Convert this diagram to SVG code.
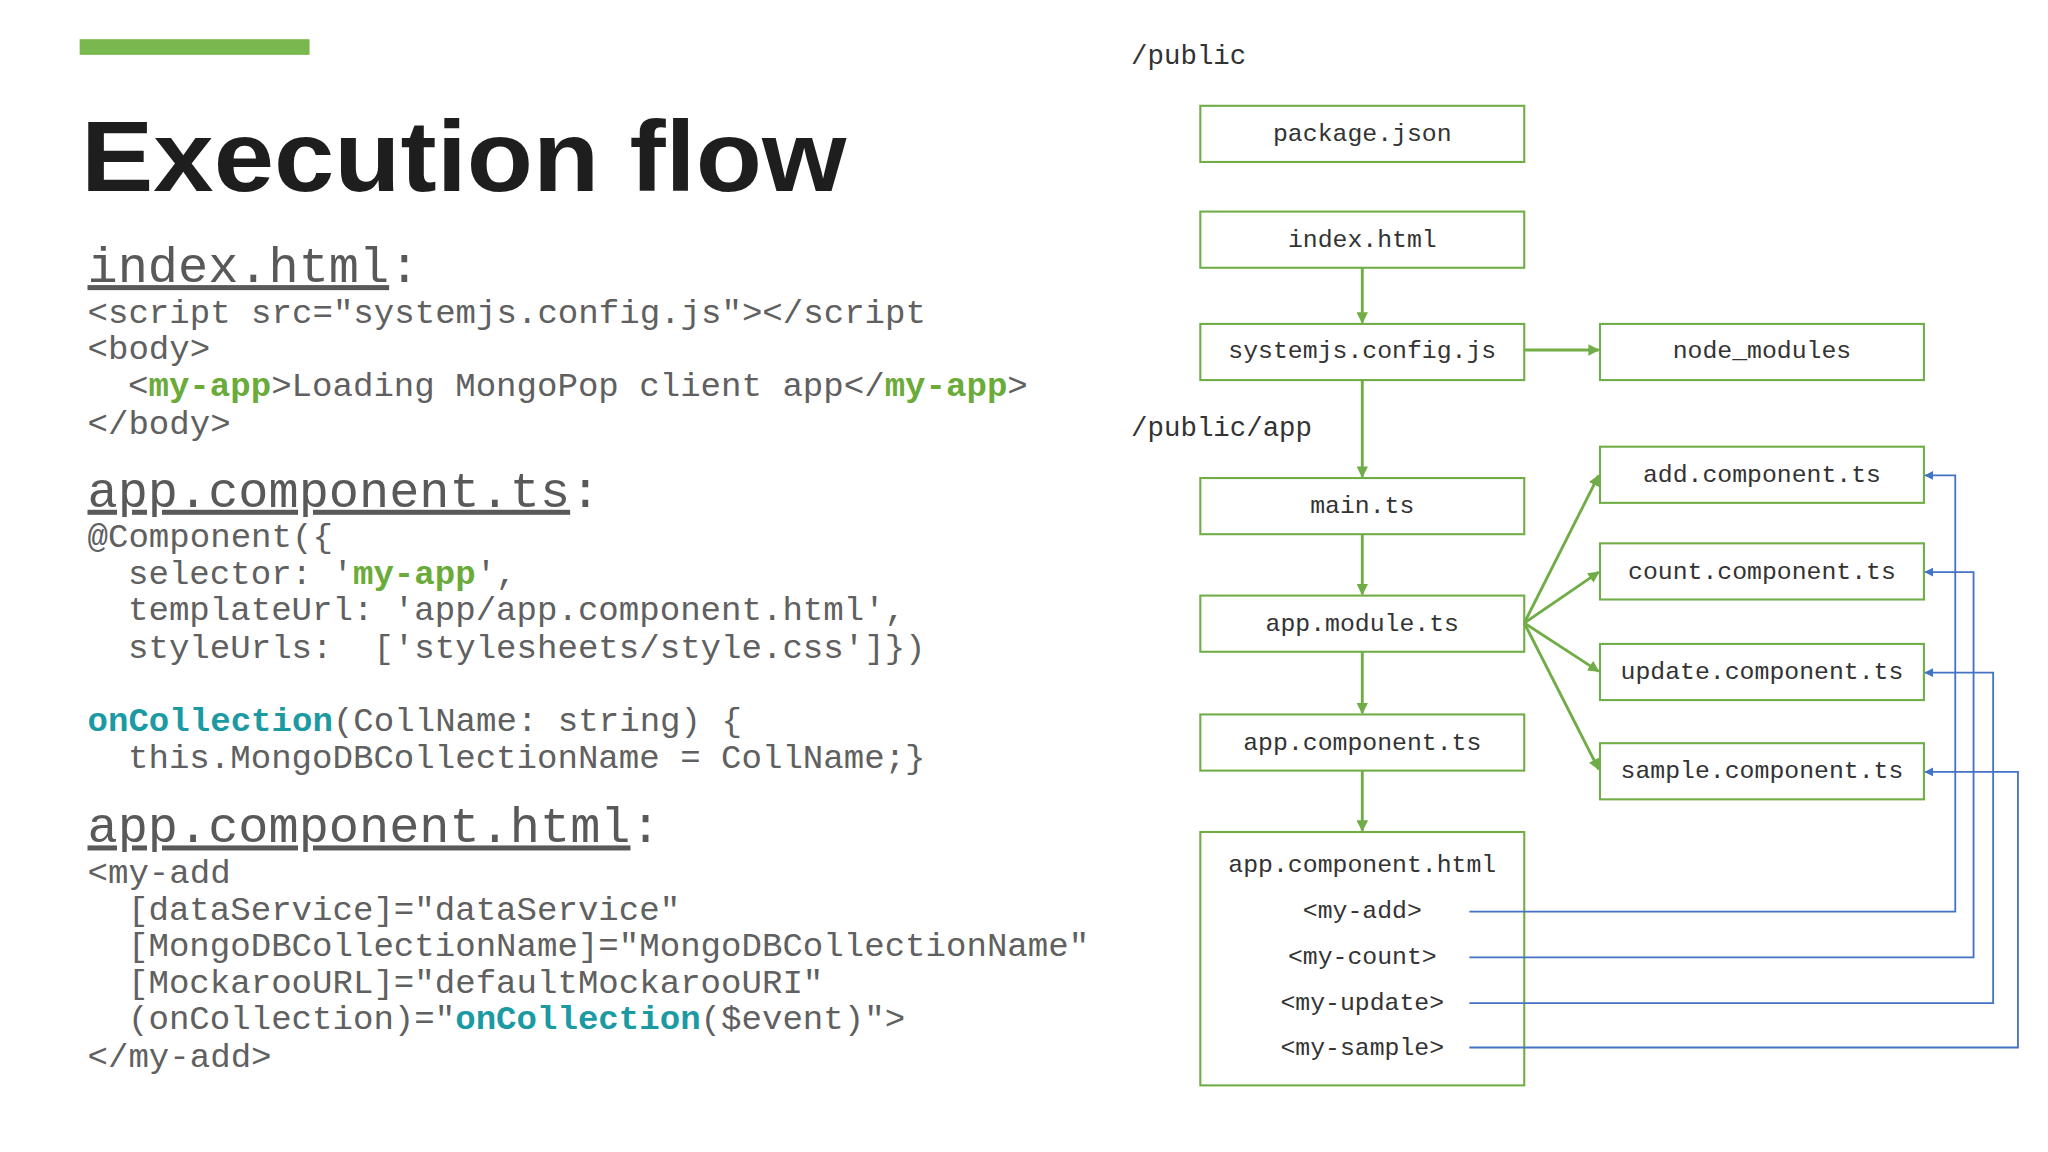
<svg xmlns="http://www.w3.org/2000/svg" width="2048" height="1152" viewBox="0 0 2048 1152">
<style>
.code{font-family:"Liberation Mono","Courier New",monospace;font-size:26.1px;fill:#606060}
.hd{font-family:"Liberation Mono","Courier New",monospace;font-size:38.5px;fill:#595959}
.u{text-decoration:underline}
.g{fill:#6aab3a;font-weight:bold}
.t{fill:#1b9aa3;font-weight:bold}
.box{fill:#fff;stroke:#70ad47;stroke-width:1.6}
.bt{font-family:"Liberation Mono","Courier New",monospace;font-size:19px;fill:#333;text-anchor:middle}
.lbl{font-family:"Liberation Mono","Courier New",monospace;font-size:21px;fill:#333}
.ga{stroke:#70ad47;stroke-width:2.2;fill:none;marker-end:url(#ag)}
.ba{stroke:#4472c4;stroke-width:1.4;fill:none;marker-end:url(#ab)}
</style>
<defs>
<marker id="ag" viewBox="0 0 10 10" refX="9" refY="5" markerWidth="4" markerHeight="4" orient="auto"><path d="M0,0L10,5L0,10z" fill="#70ad47"/></marker>
<marker id="ab" viewBox="0 0 10 10" refX="9" refY="5" markerWidth="5" markerHeight="5" orient="auto"><path d="M0,0L10,5L0,10z" fill="#4472c4"/></marker>
</defs>
<rect width="2048" height="1152" fill="#fff"/>
<g transform="scale(1.30612)">
<rect x="61" y="30" width="176" height="12" fill="#78b84e"/>
<text x="62" y="146" font-family="'Liberation Sans',Arial,sans-serif" font-weight="bold" font-size="76" fill="#1e1e1e" textLength="586" lengthAdjust="spacingAndGlyphs">Execution flow</text>
<g id="code">
<text class="hd" x="67" y="216"><tspan class="u">index.html</tspan>:</text>
<text class="code" x="67" y="247">&lt;script src="systemjs.config.js"&gt;&lt;/script</text>
<text class="code" x="67" y="275">&lt;body&gt;</text>
<text class="code" x="98" y="303">&lt;<tspan class="g">my-app</tspan>&gt;Loading MongoPop client app&lt;/<tspan class="g">my-app</tspan>&gt;</text>
<text class="code" x="67" y="332">&lt;/body&gt;</text>
<text class="hd" x="67" y="388"><tspan class="u">app.component.ts</tspan>:</text>
<text class="code" x="67" y="419">@Component({</text>
<text class="code" x="98" y="447">selector: '<tspan class="g">my-app</tspan>',</text>
<text class="code" x="98" y="475">templateUrl: 'app/app.component.html',</text>
<text class="code" x="98" y="504" xml:space="preserve">styleUrls:  ['stylesheets/style.css']})</text>
<text class="code" x="67" y="560"><tspan class="t">onCollection</tspan>(CollName: string) {</text>
<text class="code" x="98" y="588">this.MongoDBCollectionName = CollName;}</text>
<text class="hd" x="67" y="645"><tspan class="u">app.component.html</tspan>:</text>
<text class="code" x="67" y="676">&lt;my-add</text>
<text class="code" x="98" y="704">[dataService]="dataService"</text>
<text class="code" x="98" y="732">[MongoDBCollectionName]="MongoDBCollectionName"</text>
<text class="code" x="98" y="760">[MockarooURL]="defaultMockarooURI"</text>
<text class="code" x="98" y="788">(onCollection)="<tspan class="t">onCollection</tspan>($event)"&gt;</text>
<text class="code" x="67" y="817">&lt;/my-add&gt;</text>
</g>
<text class="lbl" x="866" y="49">/public</text>
<text class="lbl" x="866" y="334">/public/app</text>
<g id="package"><rect class="box" x="919" y="81" width="248" height="43"/><text class="bt" x="1043" y="108">package.json</text></g>
<g id="index"><rect class="box" x="919" y="162" width="248" height="43"/><text class="bt" x="1043" y="189">index.html</text></g>
<g id="systemjs"><rect class="box" x="919" y="248" width="248" height="43"/><text class="bt" x="1043" y="274">systemjs.config.js</text></g>
<g id="node_modules"><rect class="box" x="1225" y="248" width="248" height="43"/><text class="bt" x="1349" y="274">node_modules</text></g>
<g id="main"><rect class="box" x="919" y="366" width="248" height="43"/><text class="bt" x="1043" y="393">main.ts</text></g>
<g id="appmodule"><rect class="box" x="919" y="456" width="248" height="43"/><text class="bt" x="1043" y="483">app.module.ts</text></g>
<g id="appcomponent"><rect class="box" x="919" y="547" width="248" height="43"/><text class="bt" x="1043" y="574">app.component.ts</text></g>
<g id="apphtml"><rect class="box" x="919" y="637" width="248" height="194"/>
<text class="bt" x="1043" y="668">app.component.html</text>
<text class="bt" x="1043" y="703">&lt;my-add&gt;</text>
<text class="bt" x="1043" y="738">&lt;my-count&gt;</text>
<text class="bt" x="1043" y="773">&lt;my-update&gt;</text>
<text class="bt" x="1043" y="808">&lt;my-sample&gt;</text></g>
<g id="add"><rect class="box" x="1225" y="342" width="248" height="43"/><text class="bt" x="1349" y="369">add.component.ts</text></g>
<g id="count"><rect class="box" x="1225" y="416" width="248" height="43"/><text class="bt" x="1349" y="443">count.component.ts</text></g>
<g id="update"><rect class="box" x="1225" y="493" width="248" height="43"/><text class="bt" x="1349" y="520">update.component.ts</text></g>
<g id="sample"><rect class="box" x="1225" y="569" width="248" height="43"/><text class="bt" x="1349" y="596">sample.component.ts</text></g>
<g id="connectors">
<path class="ga" d="M1043,205V247"/>
<path class="ga" d="M1043,291V365"/>
<path class="ga" d="M1043,409V455"/>
<path class="ga" d="M1043,499V546"/>
<path class="ga" d="M1043,590V636"/>
<path class="ga" d="M1167,268H1224"/>
<path class="ga" d="M1167,477L1224,364"/>
<path class="ga" d="M1167,477L1224,438"/>
<path class="ga" d="M1167,477L1224,514"/>
<path class="ga" d="M1167,477L1224,589"/>
<path class="ba" d="M1125,698H1497V364H1474"/>
<path class="ba" d="M1125,733H1511V438H1474"/>
<path class="ba" d="M1125,768H1526V515H1474"/>
<path class="ba" d="M1125,802H1545V591H1474"/>
</g>
</g>
</svg>
